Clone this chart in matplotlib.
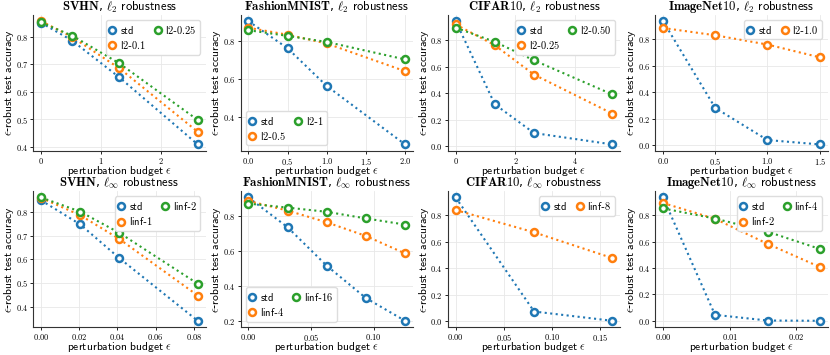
import matplotlib
matplotlib.use("Agg")
import matplotlib.pyplot as plt
from matplotlib.ticker import ScalarFormatter

plt.rcParams["font.family"] = ["DejaVu Sans"]
plt.rcParams["mathtext.fontset"] = "cm"

# x values (perturbation budgets)
svhn_l2_eps = [0.0, 0.52, 1.31, 2.62]
fmnist_l2_eps = [0.0, 0.5, 1.0, 2.0]
cifar_l2_eps = [0.0, 1.31, 2.62, 5.24]
inet_l2_eps = [0.0, 0.5, 1.0, 1.5]
svhn_linf_eps = [0.0, 0.0205, 0.041, 0.082]
fmnist_linf_eps = [0.0, 0.03125, 0.0625, 0.09375, 0.125]
cifar_linf_eps = [0.0, 0.0816, 0.163]
inet_linf_eps = [0.0, 0.0078, 0.0157, 0.0235]

# robust accuracies
svhn_l2 = {"std": [0.852, 0.787, 0.653, 0.409],
           "l2-0.1": [0.858, 0.800, 0.686, 0.455],
           "l2-0.25": [0.853, 0.805, 0.704, 0.498]}
fmnist_l2 = {"std": [0.905, 0.762, 0.563, 0.255],
             "l2-0.5": [0.870, 0.833, 0.787, 0.641],
             "l2-1": [0.857, 0.827, 0.795, 0.703]}
cifar_l2 = {"std": [0.945, 0.315, 0.098, 0.012],
            "l2-0.25": [0.920, 0.762, 0.540, 0.245],
            "l2-0.50": [0.895, 0.788, 0.648, 0.390]}
inet_l2 = {"std": [0.935, 0.280, 0.038, 0.005],
           "l2-1.0": [0.883, 0.828, 0.758, 0.662]}
svhn_linf = {"std": [0.850, 0.748, 0.605, 0.340],
             "linf-1": [0.860, 0.787, 0.686, 0.447],
             "linf-2": [0.862, 0.802, 0.712, 0.497]}
fmnist_linf = {"std": [0.905, 0.735, 0.515, 0.330, 0.200],
               "linf-4": [0.885, 0.830, 0.763, 0.685, 0.585],
               "linf-16": [0.870, 0.847, 0.823, 0.785, 0.750]}
cifar_linf = {"std": [0.935, 0.075, 0.005],
              "linf-8": [0.840, 0.672, 0.478]}
inet_linf = {"std": [0.935, 0.045, 0.002, 0.000],
             "linf-2": [0.893, 0.773, 0.583, 0.408],
             "linf-4": [0.852, 0.775, 0.675, 0.545]}

# tick positions
xticks = [[0, 1, 2], [0, 0.5, 1.0, 1.5, 2.0], [0, 2, 4], [0, 0.5, 1.0, 1.5],
          [0, 0.02, 0.04, 0.06, 0.08], [0, 0.05, 0.10], [0, 0.05, 0.10, 0.15],
          [0, 0.01, 0.02]]
yticks = [[0.4, 0.5, 0.6, 0.7, 0.8], [0.4, 0.6, 0.8], [0, 0.2, 0.4, 0.6, 0.8],
          [0, 0.2, 0.4, 0.6, 0.8], [0.4, 0.5, 0.6, 0.7, 0.8],
          [0.2, 0.4, 0.6, 0.8], [0, 0.2, 0.4, 0.6, 0.8], [0, 0.2, 0.4, 0.6, 0.8]]

datasets = ["SVHN", "FashionMNIST", "CIFAR10", "ImageNet10"] * 2
norms = [r"\ell_2"] * 4 + [r"\ell_\infty"] * 4

panels = [(svhn_l2_eps, svhn_l2, "upper right"),
          (fmnist_l2_eps, fmnist_l2, "lower left"),
          (cifar_l2_eps, cifar_l2, "upper right"),
          (inet_l2_eps, inet_l2, "upper right"),
          (svhn_linf_eps, svhn_linf, "upper right"),
          (fmnist_linf_eps, fmnist_linf, "lower left"),
          (cifar_linf_eps, cifar_linf, "upper right"),
          (inet_linf_eps, inet_linf, "upper right")]

colors = ["#1f77b4", "#ff7f0e", "#2ca02c"]


def sf(text):
    # computer-modern sans via mathtext, keeping hyphens as text
    parts = [r"$\mathsf{" + p.replace(" ", r"\ ") + "}$" for p in text.split("-")]
    return "-".join(parts)


class MathFmt(ScalarFormatter):
    def __call__(self, x, pos=None):
        s = super().__call__(x, pos)
        return f"${s}$" if s else s


fig, axes = plt.subplots(2, 4, figsize=(8.3, 3.55), dpi=100)
fig.subplots_adjust(left=0.04, right=0.997, top=0.958, bottom=0.079,
                    wspace=0.203, hspace=0.30)

for i, (ax, (eps, series, loc)) in enumerate(zip(axes.flat, panels)):
    for (name, vals), c in zip(series.items(), colors):
        ax.plot(eps, vals, ":", color=c, lw=1.5, marker="o", ms=5,
                mfc="white", mew=1.8, mec=c, label=sf(name))
    ax.set_title(rf"$\mathbf{{{datasets[i]}}}$, ${norms[i]}$ $\mathsf{{robustness}}$",
                 fontsize=9.1, pad=3)
    ax.set_xlabel(r"$\mathsf{perturbation\ budget}\ \epsilon$", fontsize=8.3)
    ax.set_ylabel(r"$\epsilon$-$\mathsf{robust\ test\ accuracy}$", fontsize=8.3)
    ax.xaxis.set_label_coords(0.5, -0.098)
    ax.yaxis.set_label_coords(-0.1, 0.5)
    ax.set_xticks(xticks[i])
    ax.set_yticks(yticks[i])
    ax.grid(True, color="#e8e8e8", lw=0.6)
    ax.set_axisbelow(True)
    for s in ["top", "right"]:
        ax.spines[s].set_visible(False)
    for s in ["left", "bottom"]:
        ax.spines[s].set_color("#333333")
        ax.spines[s].set_linewidth(0.8)
    ax.tick_params(labelsize=6, length=2.5, width=0.6, pad=1.2)
    ax.xaxis.set_major_formatter(MathFmt())
    ax.yaxis.set_major_formatter(MathFmt())
    ax.legend(loc=loc, ncol=2, fontsize=7.5, handlelength=0.5, handletextpad=0.5,
              columnspacing=0.9, borderpad=0.35, labelspacing=0.3,
              framealpha=1, edgecolor="#dddddd")

fig.savefig("out.png", dpi=100)
